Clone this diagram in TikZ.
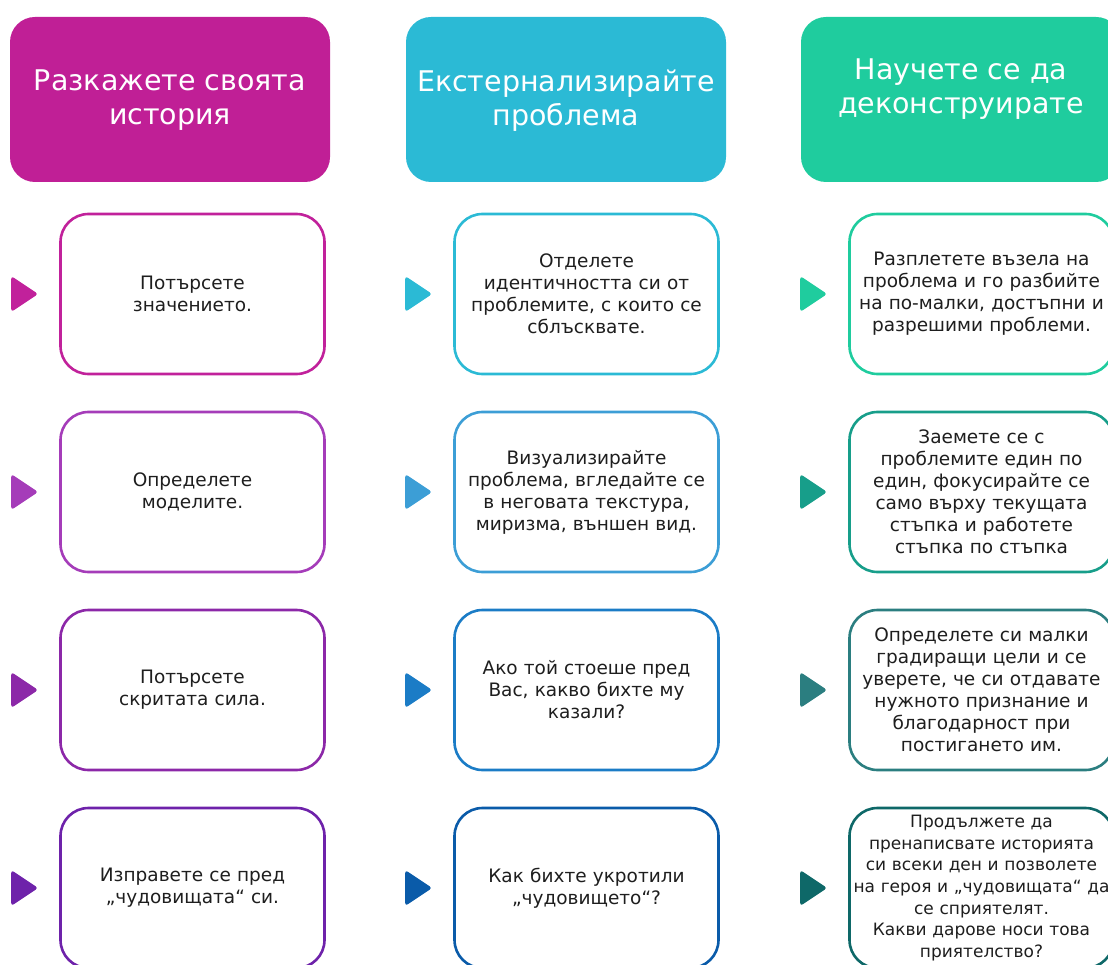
\documentclass[tikz,border=0pt]{standalone}
\usepackage{fontspec}
\setmainfont{DejaVu Sans}
\usetikzlibrary{positioning}

\definecolor{hdA}{HTML}{C01F96}
\definecolor{hdB}{HTML}{2BBAD5}
\definecolor{hdC}{HTML}{1FCC9E}
\definecolor{cA1}{HTML}{C1219B}
\definecolor{cA2}{HTML}{A53CB9}
\definecolor{cA3}{HTML}{8C28A8}
\definecolor{cA4}{HTML}{6E22AA}
\definecolor{cB1}{HTML}{2BBAD5}
\definecolor{cB2}{HTML}{3C9ED6}
\definecolor{cB3}{HTML}{1B7CC6}
\definecolor{cB4}{HTML}{0A5BA9}
\definecolor{cC1}{HTML}{1FCC9E}
\definecolor{cC2}{HTML}{179E8A}
\definecolor{cC3}{HTML}{2B7E80}
\definecolor{cC4}{HTML}{0E6868}
\definecolor{ink}{HTML}{1E1E1E}

% a line that may run past the card's text width, kept centred
\newcommand{\wideline}[1]{\makebox[\linewidth]{#1}}

\tikzset{
    head box/.style = {
        rounded corners=25pt, minimum width=320pt, minimum height=165pt,
        inner sep=0pt
    },
    head text/.style = {
        inner sep=0pt, text=white, align=center,
        font=\fontsize{28.5}{34}\selectfont
    },
    card/.style = {
        draw, line width=2.6pt, rounded corners=28pt, fill=white,
        minimum width=264pt, minimum height=160pt, inner sep=0pt,
        text width=260pt, text=ink, align=center,
        font=\fontsize{18.5}{22}\selectfont
    },
    marker/.style = {rounded corners=3pt}
}

\begin{document}
\begin{tikzpicture}[x=1pt, y=-1pt]
        \useasboundingbox (0, 0) rectangle (1108, 965);

        % column heads
        \node[head box, fill=hdA] (hd1) at (170, 99.5) {};
        \node[head box, fill=hdB] (hd2) at (566, 99.5) {};
        \node[head box, fill=hdC] (hd3) at (961, 99.5) {};
        \node[head text] (t1) at ([yshift=-1pt]hd1.center) {Разкажете своята\\история};
        \node[head text] (t2) at ([yshift=-1pt]hd2.center) {Екстернализирайте\\проблема};
        \node[head text] (t3) at ([yshift=10pt]hd3.center) {Научете се да\\деконструирате};

        % first column
        \node[card, draw=cA1] (b11) at (192.5, 294) {Потърсете\\значението.};
        \node[card, draw=cA2] (b12) at (192.5, 492) {Определете\\моделите.};
        \node[card, draw=cA3] (b13) at (192.5, 690) {Потърсете\\скритата сила.};
        \node[card, draw=cA4] (b14) at (192.5, 888) {Изправете се пред\\„чудовищата“ си.};

        % second column
        \node[card, draw=cB1] (b21) at (586.5, 294) {Отделете\\идентичността си от\\проблемите, с които се\\сблъсквате.};
        \node[card, draw=cB2] (b22) at (586.5, 492) {Визуализирайте\\проблема, вгледайте се\\в неговата текстура,\\миризма, външен вид.};
        \node[card, draw=cB3] (b23) at (586.5, 690) {Ако той стоеше пред\\Вас, какво бихте му\\казали?};
        \node[card, draw=cB4] (b24) at (586.5, 888) {Как бихте укротили\\„чудовището“?};

        % third column
        \node[card, draw=cC1] (b31) at (981.5, 294) {Разплетете възела на\\проблема и го разбийте\\на по-малки, достъпни и\\разрешими проблеми.};
        \node[card, draw=cC2] (b32) at (981.5, 492) {Заемете се с\\проблемите един по\\един, фокусирайте се\\само върху текущата\\стъпка и работете\\стъпка по стъпка};
        \node[card, draw=cC3] (b33) at (981.5, 690) {Определете си малки\\градиращи цели и се\\уверете, че си отдавате\\нужното признание и\\благодарност при\\постигането им.};
        \node[card, draw=cC4, font=\fontsize{17}{21.7}\selectfont] (b34) at (981.5, 888) {Продължете да\\пренаписвате историята\\си всеки ден и позволете\\\wideline{на героя и „чудовищата“ да}\\се сприятелят.\\Какви дарове носи това\\приятелство?};

        % markers in front of the cards
        \foreach \n/\c in {b11/cA1, b12/cA2, b13/cA3, b14/cA4,
                           b21/cB1, b22/cB2, b23/cB3, b24/cB4,
                           b31/cC1, b32/cC2, b33/cC3, b34/cC4}
            \fill[marker, \c] ([xshift=-48pt]\n.west) ++(0, -18) -- ++(27, 18) -- ++(-27, 18) -- cycle;
    \end{tikzpicture}
\end{document}
